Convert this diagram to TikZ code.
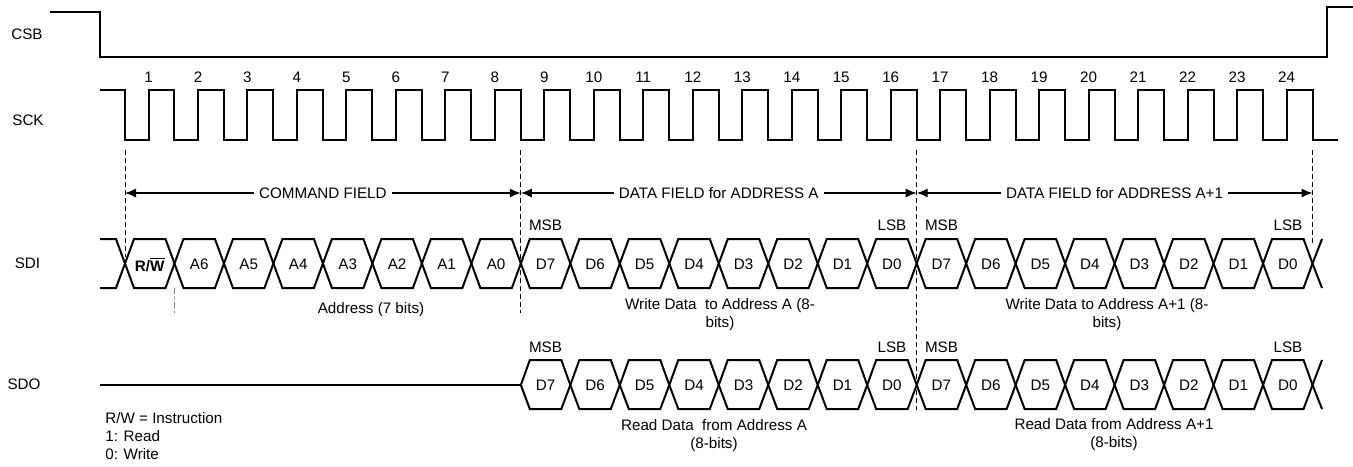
\documentclass[tikz,border=0pt]{standalone}
\usepackage{fontspec}
\setmainfont{Liberation Sans}
\usetikzlibrary{arrows.meta}
\newcommand{\rwbar}{\textbf{R/$\overline{\mbox{\textbf{W}}}$}}
\def\per{49.48}

\begin{document}
\begin{tikzpicture}[x=0.5pt,y=-0.5pt,
  sig/.style={line width=1pt,line join=miter},
  lbl/.style={font=\fontsize{7.6}{9}\selectfont,inner sep=0pt},
  guide/.style={line width=0.5pt,dash pattern=on 2.5pt off 1.5pt},
  field/.style={line width=0.65pt,{Latex[length=5.5pt,width=4.5pt]}-{Latex[length=5.5pt,width=4.5pt]}},
  fieldlbl/.style={lbl,fill=white,inner xsep=2.5pt,inner ysep=1pt}]
	\useasboundingbox (0,0) rectangle (1353,466);

	\node [lbl] at (27,34) (csb) {CSB};
	\node [lbl] at (28,120) (sck) {SCK};
	\node [lbl] at (27.5,263) (sdi) {SDI};
	\node [lbl] at (24,384) (sdo) {SDO};

	\draw[sig] (50,12) -- (100,12) -- (100,57) -- (1327,57) -- (1327,7) -- (1353,7);

	\draw[sig] (100,90) -- (125,90) -- (125,140)
	  foreach \k in {1,...,24} {
	    -- ({125+(\k-1)*\per+23.5},140) -- ({125+(\k-1)*\per+23.5},90)
	    -- ({125+\k*\per},90) -- ({125+\k*\per},140)
	  } -- (1338,140);
	\foreach \k in {1,...,24}
	  \node [lbl] at ({125+(\k-1)*\per+23.5},77) (num\k) {\k};

	\draw[guide] (125,150) -- (125,257);
	\draw[guide] (520.8,150) -- (520.8,313);
	\draw[guide] (916.7,150) -- (916.7,410);
	\draw[guide] (1312.5,150) -- (1312.5,243);
	\draw[line width=0.5pt,gray,dash pattern=on 3pt off 1.5pt on 1pt off 1.5pt] (174.5,288) -- (174.5,313);

	\coordinate (c0) at (125,193);
	\coordinate (c8) at (520.8,193);
	\coordinate (c16) at (916.7,193);
	\coordinate (c24) at (1312.5,193);
	\path[field]
	(c0) edge node [fieldlbl] (cmd) {COMMAND FIELD} (c8)
	(c8) edge node [fieldlbl] (dfa) {DATA FIELD for ADDRESS A} (c16)
	(c16) edge node [fieldlbl] (dfb) {DATA FIELD for ADDRESS A+1} (c24);

	\draw[sig] (100,239) -- (116,239) -- (125,263.5) -- (116,288) -- (100,288);
	\foreach \t [count=\k from 0] in {\rwbar,A6,A5,A4,A3,A2,A1,A0,D7,D6,D5,D4,D3,D2,D1,D0,D7,D6,D5,D4,D3,D2,D1,D0} {
	  \pgfmathsetmacro\fa{125+\k*\per}
	  \pgfmathsetmacro\fb{125+(\k+1)*\per}
	  \draw[sig] (\fa,263.5) -- (\fa+9,239) -- (\fb-9,239) -- (\fb,263.5) -- (\fb-9,288) -- (\fa+9,288) -- cycle;
	  \node [lbl] at ({(\fa+\fb)/2},264.5) (sdi\k) {\t};
	}
	\draw[sig] (1322,239) -- (1312.5,263.5) -- (1322,288);

	\draw[sig] (100,385) -- (520.8,385);
	\foreach \t [count=\k from 8] in {D7,D6,D5,D4,D3,D2,D1,D0,D7,D6,D5,D4,D3,D2,D1,D0} {
	  \pgfmathsetmacro\fa{125+\k*\per}
	  \pgfmathsetmacro\fb{125+(\k+1)*\per}
	  \draw[sig] (\fa,385) -- (\fa+9,360) -- (\fb-9,360) -- (\fb,385) -- (\fb-9,409) -- (\fa+9,409) -- cycle;
	  \node [lbl] at ({(\fa+\fb)/2},385.5) (sdo\k) {\t};
	}
	\draw[sig] (1322,360) -- (1312.5,385) -- (1322,409);

	\node [lbl] at (545.5,225) (msba) {MSB};
	\node [lbl] at (892,225) (lsba) {LSB};
	\node [lbl] at (941.5,225) (msbb) {MSB};
	\node [lbl] at (1288,225) (lsbb) {LSB};
	\node [lbl] at (545.5,347) (msbc) {MSB};
	\node [lbl] at (892,347) (lsbc) {LSB};
	\node [lbl] at (941.5,347) (msbd) {MSB};
	\node [lbl] at (1288,347) (lsbd) {LSB};

	\node [lbl] at (371,310) (addr) {Address (7 bits)};
	\node [lbl,align=center] at (720,315) (wra) {Write Data\ \ to Address A (8-\\bits)};
	\node [lbl,align=center] at (1107,315) (wrb) {Write Data to Address A+1 (8-\\bits)};
	\node [lbl,align=center] at (714,436) (rda) {Read Data\ \ from Address A\\(8-bits)};
	\node [lbl,align=center] at (1114,435) (rdb) {Read Data from Address A+1\\(8-bits)};

	\node [lbl,align=left,anchor=west] at (105,436) (legend) {R/W = Instruction\\1: Read\\0: Write};
\end{tikzpicture}
\end{document}
